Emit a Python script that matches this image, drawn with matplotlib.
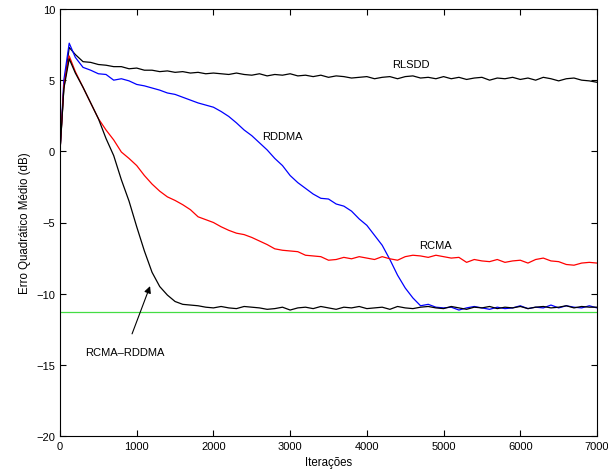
import matplotlib
matplotlib.use('Agg')
from matplotlib import pyplot as plt

plt.rcParams['font.family'] = ['Liberation Sans', 'DejaVu Sans']

# iteracoes (eixo x)
iters = [0, 50, 120, 200] + list(range(300, 7001, 100))

rlsdd = [0, 4.4, 7.3, 6.8, 6.3, 6.25, 6.1, 6.05, 5.95, 5.95, 5.8, 5.85, 5.7, 5.7, 5.6,
         5.65, 5.55, 5.6, 5.5, 5.55, 5.45, 5.5, 5.45, 5.4, 5.5, 5.4, 5.35, 5.45, 5.3,
         5.4, 5.35, 5.45, 5.3, 5.35, 5.25, 5.35, 5.2, 5.3, 5.25, 5.15, 5.2, 5.25, 5.1,
         5.2, 5.25, 5.1, 5.25, 5.3, 5.15, 5.2, 5.1, 5.25, 5.1, 5.2, 5.05, 5.15, 5.2,
         5.0, 5.15, 5.1, 5.2, 5.05, 5.15, 5.0, 5.2, 5.1, 4.95, 5.1, 5.15, 5.0, 4.95, 4.85]

rddma = [0, 5.0, 7.6, 6.6, 5.9, 5.7, 5.45, 5.4, 5.0, 5.1, 4.95, 4.7, 4.6, 4.45, 4.3,
         4.1, 4.0, 3.8, 3.6, 3.4, 3.25, 3.1, 2.8, 2.45, 2.0, 1.5, 1.1, 0.6, 0.1, -0.5,
         -1.0, -1.7, -2.2, -2.6, -3.0, -3.3, -3.35, -3.7, -3.85, -4.2, -4.75, -5.2,
         -5.9, -6.6, -7.6, -8.7, -9.6, -10.3, -10.85, -10.75, -10.95, -11.0, -10.95,
         -11.15, -11.0, -10.9, -11.0, -11.1, -10.95, -11.05, -11.0, -10.85, -11.05,
         -10.95, -11.0, -10.8, -11.0, -10.85, -10.95, -11.0, -10.85, -11.0]

rcma = [0, 4.6, 6.7, 5.6, 4.5, 3.4, 2.3, 1.5, 0.8, -0.05, -0.5, -1.0, -1.7, -2.3,
        -2.8, -3.2, -3.45, -3.75, -4.1, -4.6, -4.8, -5.0, -5.3, -5.55, -5.75, -5.85,
        -6.05, -6.3, -6.55, -6.85, -6.95, -7.0, -7.05, -7.3, -7.35, -7.4, -7.65, -7.6,
        -7.45, -7.55, -7.4, -7.5, -7.6, -7.4, -7.55, -7.65, -7.4, -7.3, -7.35, -7.45,
        -7.3, -7.4, -7.5, -7.45, -7.8, -7.6, -7.7, -7.75, -7.6, -7.8, -7.7, -7.65,
        -7.85, -7.6, -7.5, -7.7, -7.75, -7.95, -8.0, -7.85, -7.8, -7.85]

rcma_rddma = [0, 4.4, 6.5, 5.5, 4.5, 3.4, 2.3, 0.9, -0.3, -2.0, -3.5, -5.3, -7.0,
              -8.5, -9.5, -10.1, -10.55, -10.75, -10.8, -10.85, -10.95, -11.0, -10.9,
              -11.0, -11.05, -10.9, -10.95, -11.0, -11.1, -11.05, -10.95, -11.15,
              -11.0, -10.95, -11.05, -10.9, -11.0, -11.1, -10.95, -11.0, -10.9,
              -11.05, -11.0, -10.95, -11.1, -10.9, -11.0, -11.05, -10.95, -10.9,
              -11.0, -11.05, -10.9, -11.0, -11.1, -10.95, -11.0, -10.9, -11.05,
              -10.95, -11.0, -10.9, -11.05, -10.95, -10.9, -11.0, -10.95, -10.85,
              -11.0, -10.9, -10.95, -10.95]

mse_min = -11.3

fig = plt.figure(figsize=(6.08, 4.77), dpi=100)
ax = fig.add_axes([60 / 608, 1 - 437 / 477, 537 / 608, 427 / 477])

lw = 0.9
ax.plot(iters, rlsdd, color='k', lw=lw)
ax.plot(iters, rddma, color='b', lw=lw)
ax.plot(iters, rcma, color='r', lw=lw)
ax.plot(iters, rcma_rddma, color='k', lw=lw)
ax.axhline(mse_min, color='#44dd44', lw=lw)

ax.set_xlim(0, 7000)
ax.set_ylim(-20, 10)
ax.set_xticks(range(0, 7001, 1000))
ax.set_yticks(range(-20, 11, 5))
ax.tick_params(direction='in', top=True, right=True, labelsize=8, length=4, width=0.8)
for s in ax.spines.values():
    s.set_linewidth(0.8)

ax.set_xlabel('Iterações', fontsize=8.3)
ax.set_ylabel('Erro Quadrático Médio (dB)', fontsize=8.3)

ax.text(4580, 6.15, 'RLSDD', fontsize=8, ha='center', va='center')
ax.text(2900, 1.05, 'RDDMA', fontsize=8, ha='center', va='center')
ax.text(4900, -6.55, 'RCMA', fontsize=8, ha='center', va='center')
ax.annotate('RCMA–RDDMA', xy=(1174, -9.47), xytext=(850, -14.1),
            fontsize=8, ha='center', va='center',
            arrowprops=dict(arrowstyle='-|>', color='k', lw=0.8,
                            mutation_scale=10, shrinkA=8, shrinkB=0))

fig.savefig('out.png', dpi=100)
